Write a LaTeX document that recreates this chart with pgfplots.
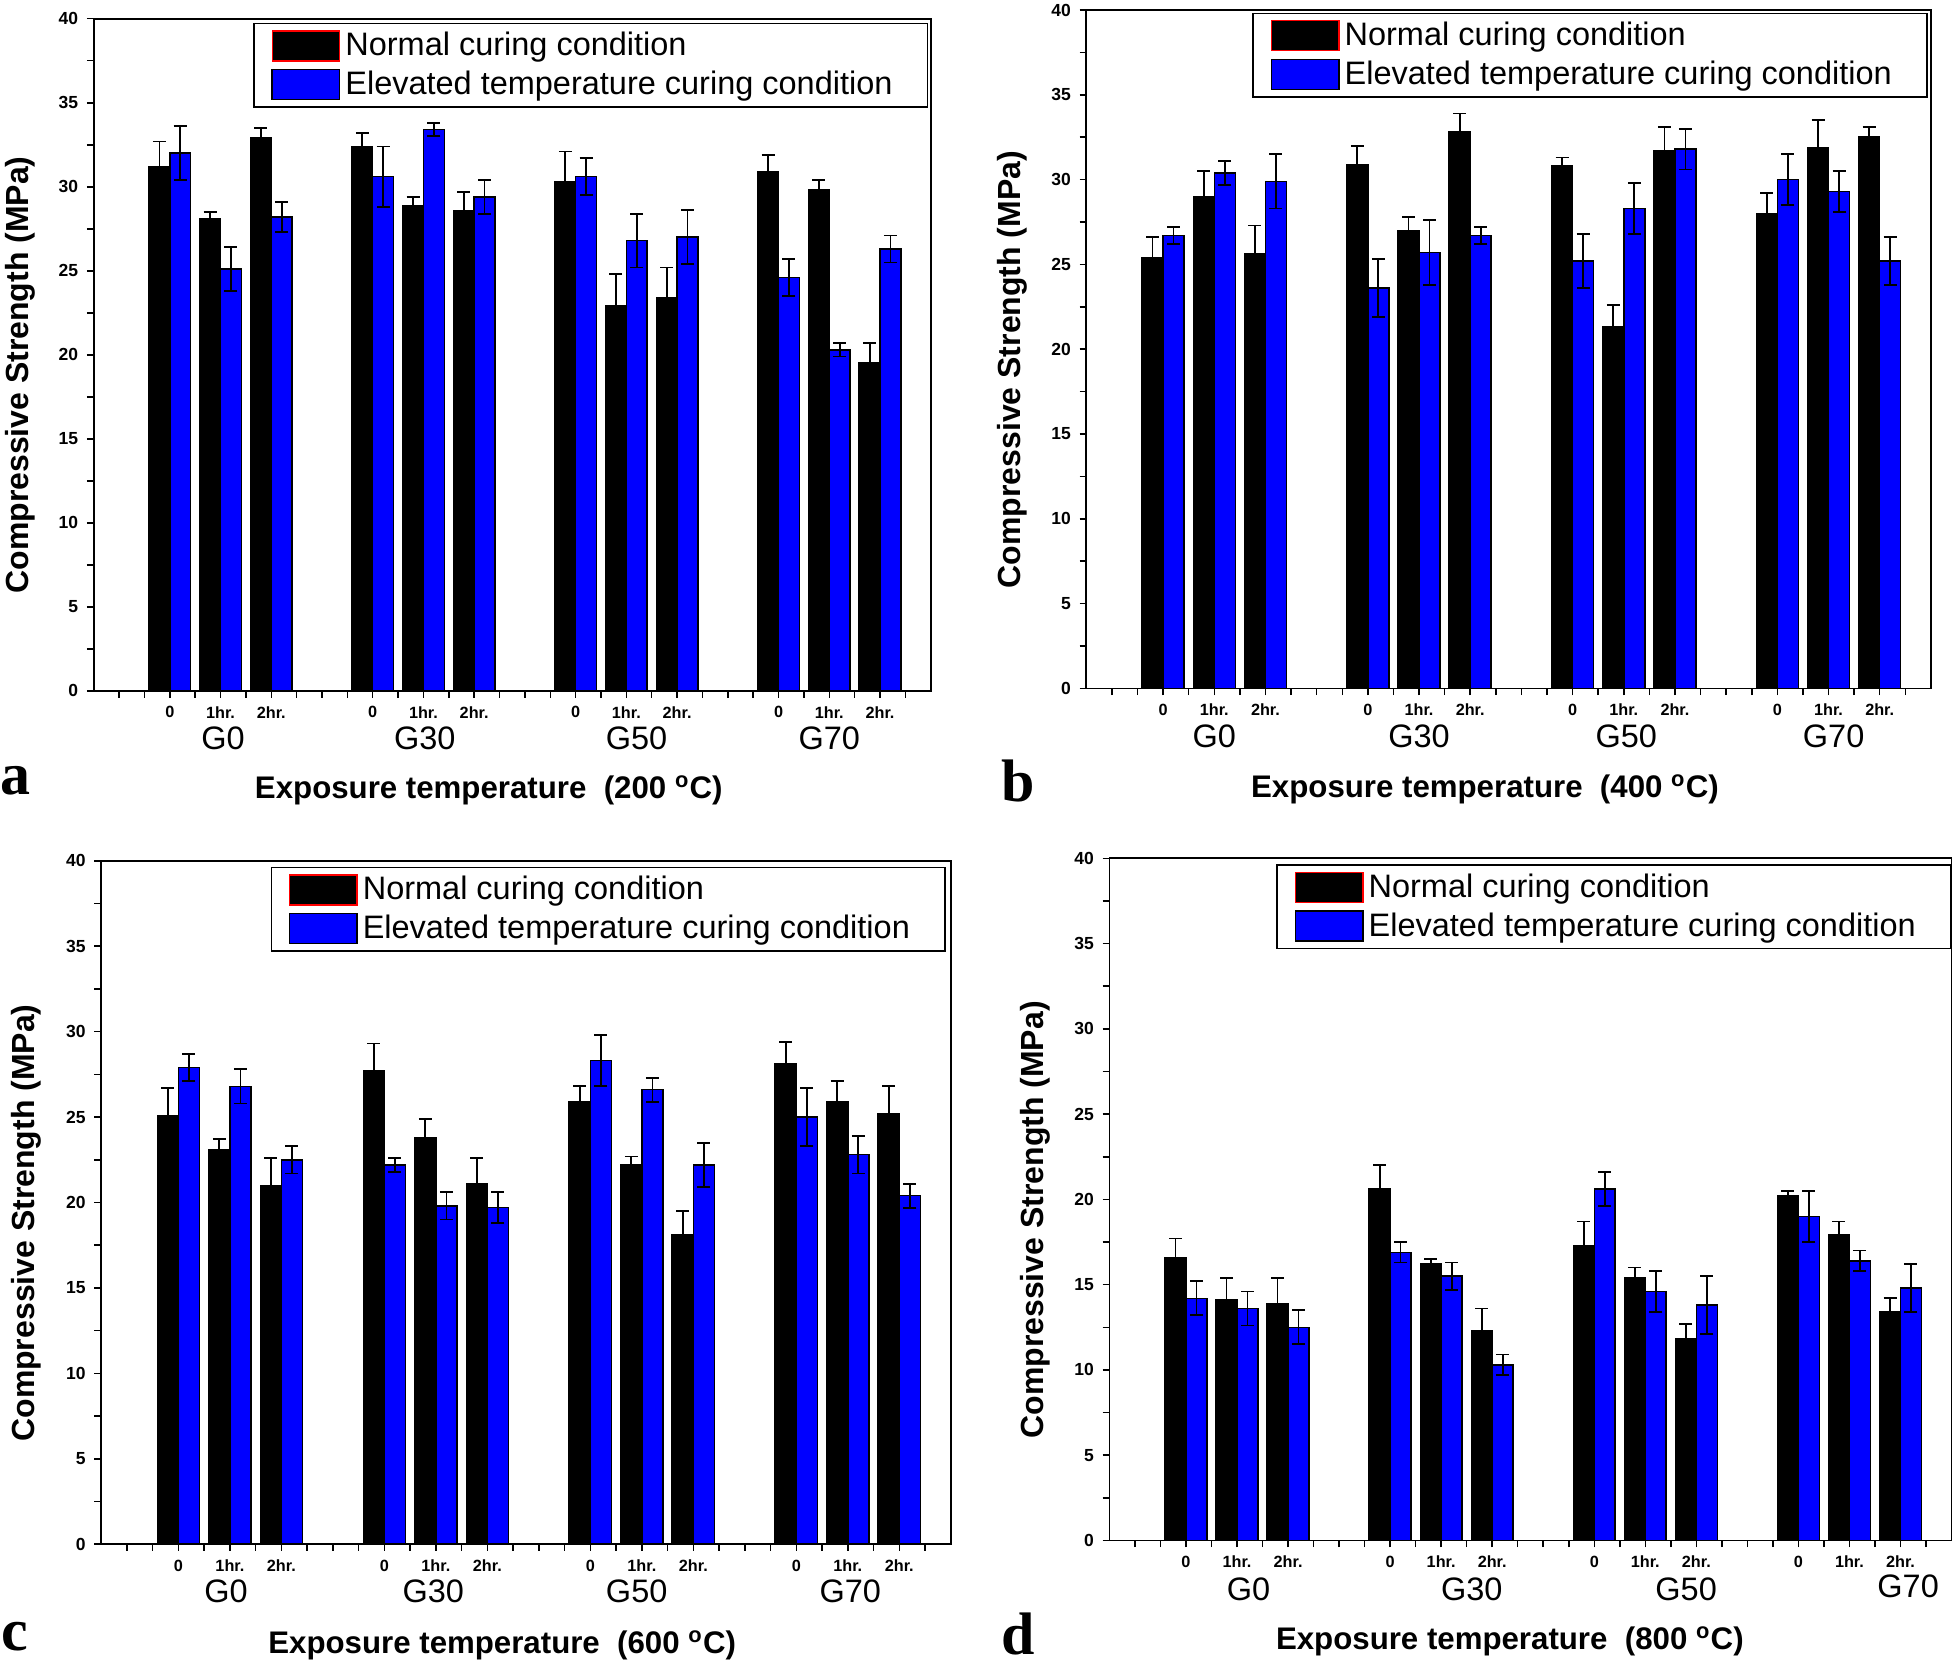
\documentclass[border=0pt]{standalone}
\usepackage{pgfplots}
\usepackage{pgfplotstable}
\pgfplotsset{compat=1.18}
\usepackage{fontspec}
\setmainfont{Liberation Sans}
\newfontfamily\letterfont{Liberation Serif}
\definecolor{obblue}{RGB}{0,0,255}

\pgfplotstableread{
x n ne e ee
3 31.2 1.5 32.0 1.6
5 28.1 0.4 25.1 1.3
7 32.9 0.6 28.2 0.9
11 32.4 0.8 30.6 1.8
13 28.9 0.5 33.4 0.4
15 28.6 1.1 29.4 1.0
19 30.3 1.8 30.6 1.1
21 22.9 1.9 26.8 1.6
23 23.4 1.8 27.0 1.6
27 30.9 1.0 24.6 1.1
29 29.8 0.6 20.3 0.4
31 19.5 1.2 26.3 0.8
}\dataA
\pgfplotstableread{
x n ne e ee
3 25.4 1.2 26.7 0.5
5 29.0 1.5 30.4 0.7
7 25.6 1.7 29.9 1.6
11 30.9 1.1 23.6 1.7
13 27.0 0.8 25.7 1.9
15 32.8 1.1 26.7 0.5
19 30.8 0.5 25.2 1.6
21 21.3 1.3 28.3 1.5
23 31.7 1.4 31.8 1.2
27 28.0 1.2 30.0 1.5
29 31.9 1.6 29.3 1.2
31 32.5 0.6 25.2 1.4
}\dataB
\pgfplotstableread{
x n ne e ee
3 25.1 1.6 27.9 0.8
5 23.1 0.6 26.8 1.0
7 21.0 1.6 22.5 0.8
11 27.7 1.6 22.2 0.4
13 23.8 1.1 19.8 0.8
15 21.1 1.5 19.7 0.9
19 25.9 0.9 28.3 1.5
21 22.2 0.5 26.6 0.7
23 18.1 1.4 22.2 1.3
27 28.1 1.3 25.0 1.7
29 25.9 1.2 22.8 1.1
31 25.2 1.6 20.4 0.7
}\dataC
\pgfplotstableread{
x n ne e ee
3 16.6 1.1 14.2 1.0
5 14.1 1.3 13.6 1.0
7 13.9 1.5 12.5 1.0
11 20.6 1.4 16.9 0.6
13 16.2 0.3 15.5 0.8
15 12.3 1.3 10.3 0.6
19 17.3 1.4 20.6 1.0
21 15.4 0.6 14.6 1.2
23 11.8 0.9 13.8 1.7
27 20.2 0.3 19.0 1.5
29 17.9 0.8 16.4 0.6
31 13.4 0.8 14.8 1.4
}\dataD

\tikzset{glab/.style={font=\fontsize{13}{15}\selectfont, anchor=center}}

\pgfplotsset{
  panel/.style={
    scale only axis, anchor=south west, clip=false,
    xmin=0, xmax=33, ymin=0, ymax=40,
    axis line style={line width=0.7pt},
    every tick/.style={black, line width=0.6pt},
    major tick length=2.7pt, minor tick length=2.7pt,
    tick align=outside, xtick pos=bottom, ytick pos=left,
    xtick={1,...,32}, xticklabels={},
    extra x ticks={3,5,7,11,13,15,19,21,23,27,29,31},
    extra x tick labels={0,1hr.,2hr.,0,1hr.,2hr.,0,1hr.,2hr.,0,1hr.,2hr.},
    extra x tick style={major tick length=2.7pt},
    ytick={0,5,...,40}, minor ytick={2.5,7.5,...,37.5},
    /pgf/number format/assume math mode=true,
    yticklabel style={font=\bfseries\fontsize{7}{8}\selectfont},
    xticklabel style={font=\bfseries\fontsize{6.5}{8}\selectfont},
    ybar, bar width=0.82,
    legend style={anchor=north east, draw=black, line width=0.6pt,
      font=\fontsize{13}{15}\selectfont, inner xsep=7pt, inner ysep=1.5pt,
      cells={anchor=west}, row sep=0.5pt},
    every axis y label/.style={at={(axis description cs:-0.088,0.47)}, rotate=90, anchor=center, font=\bfseries\fontsize{12.8}{14}\selectfont},
    every axis x label/.style={at={(axis description cs:0.472,-0.148)}, anchor=center, font=\bfseries\fontsize{12.5}{14}\selectfont},
    ylabel={Compressive Strength (MPa)},
  },
  nbar/.style={fill=black, draw=black, line width=0.6pt, bar shift=-0.41, forget plot,
     error bars/.cd, y dir=both, y explicit, error mark=-,
     error bar style={black, line width=0.7pt},
     error mark options={rotate=90, black, line width=0.7pt, mark size=2.6pt}},
  ebar/.style={fill=obblue, draw=black, line width=0.6pt, bar shift=0.41, forget plot,
     error bars/.cd, y dir=both, y explicit, error mark=-,
     error bar style={black, line width=0.7pt},
     error mark options={rotate=90, black, line width=0.7pt, mark size=2.6pt}},
}

\newcommand{\legimgs}{%
  \addlegendimage{legend image code/.code={\draw[fill=black,draw=red,line width=0.5pt] (0pt,-6pt) rectangle (27pt,6pt);}}
  \addlegendentry{Normal curing condition}
  \addlegendimage{legend image code/.code={\draw[fill=obblue,draw=black,line width=0.6pt] (0pt,-6pt) rectangle (27pt,6pt);}}
  \addlegendentry{Elevated temperature curing condition\hspace*{5pt}}
}

\begin{document}
\begin{tikzpicture}[x=1pt,y=1pt]
\path[use as bounding box] (0,0) rectangle (784,666.5);

% panel a
\begin{axis}[panel, at={(37.5pt,390pt)}, width=335pt, height=269pt,
  legend style={at={(0.997,0.994)}},
  xlabel={Exposure temperature~~(200 \textsuperscript{o}C)}]
\legimgs
\addplot[nbar] table[x=x, y=n, y error=ne] {\dataA};
\addplot[ebar] table[x=x, y=e, y error=ee] {\dataA};
\node[glab] at (axis cs:5.1,0) [yshift=-19pt] {G0};
\node[glab] at (axis cs:13.05,0) [yshift=-19pt] {G30};
\node[glab] at (axis cs:21.4,0) [yshift=-19pt] {G50};
\node[glab] at (axis cs:29.0,0) [yshift=-19pt] {G70};
\end{axis}

% panel b
\begin{axis}[panel, at={(434.75pt,391pt)}, width=338pt, height=271.5pt,
  legend style={at={(0.996,0.996)}},
  every axis x label/.append style={at={(axis description cs:0.472,-0.149)}},
  xlabel={Exposure temperature~~(400 \textsuperscript{o}C)}]
\legimgs
\addplot[nbar] table[x=x, y=n, y error=ne] {\dataB};
\addplot[ebar] table[x=x, y=e, y error=ee] {\dataB};
\node[glab] at (axis cs:5.0,0) [yshift=-19pt] {G0};
\node[glab] at (axis cs:13.0,0) [yshift=-19pt] {G30};
\node[glab] at (axis cs:21.1,0) [yshift=-19pt] {G50};
\node[glab] at (axis cs:29.2,0) [yshift=-19pt] {G70};
\end{axis}

% panel c
\begin{axis}[panel, at={(40.5pt,48.5pt)}, width=340pt, height=273.5pt,
  legend style={at={(0.994,0.991)}},
  xlabel={Exposure temperature~~(600 \textsuperscript{o}C)}]
\legimgs
\addplot[nbar] table[x=x, y=n, y error=ne] {\dataC};
\addplot[ebar] table[x=x, y=e, y error=ee] {\dataC};
\node[glab] at (axis cs:4.85,0) [yshift=-19pt] {G0};
\node[glab] at (axis cs:12.9,0) [yshift=-19pt] {G30};
\node[glab] at (axis cs:20.8,0) [yshift=-19pt] {G50};
\node[glab] at (axis cs:29.1,0) [yshift=-19pt] {G70};
\end{axis}

% panel d
\begin{axis}[panel, at={(444pt,50pt)}, width=337pt, height=273pt,
  legend style={at={(1.0,0.991)}},
  every axis x label/.append style={at={(axis description cs:0.4755,-0.148)}},
  xlabel={Exposure temperature~~(800 \textsuperscript{o}C)}]
\legimgs
\addplot[nbar] table[x=x, y=n, y error=ne] {\dataD};
\addplot[ebar] table[x=x, y=e, y error=ee] {\dataD};
\node[glab] at (axis cs:5.45,0) [yshift=-19.5pt] {G0};
\node[glab] at (axis cs:14.2,0) [yshift=-19.5pt] {G30};
\node[glab] at (axis cs:22.6,0) [yshift=-19.5pt] {G50};
\node[glab] at (axis cs:31.3,0) [yshift=-18.5pt] {G70};
\end{axis}

\node[font=\letterfont\bfseries\fontsize{24}{26}\selectfont] at (6,354) {a};
\node[font=\letterfont\bfseries\fontsize{24}{26}\selectfont] at (407.5,354) {b};
\node[font=\letterfont\bfseries\fontsize{24}{26}\selectfont] at (6,11.5) {c};
\node[font=\letterfont\bfseries\fontsize{24}{26}\selectfont] at (407.5,12.5) {d};
\end{tikzpicture}
\end{document}
